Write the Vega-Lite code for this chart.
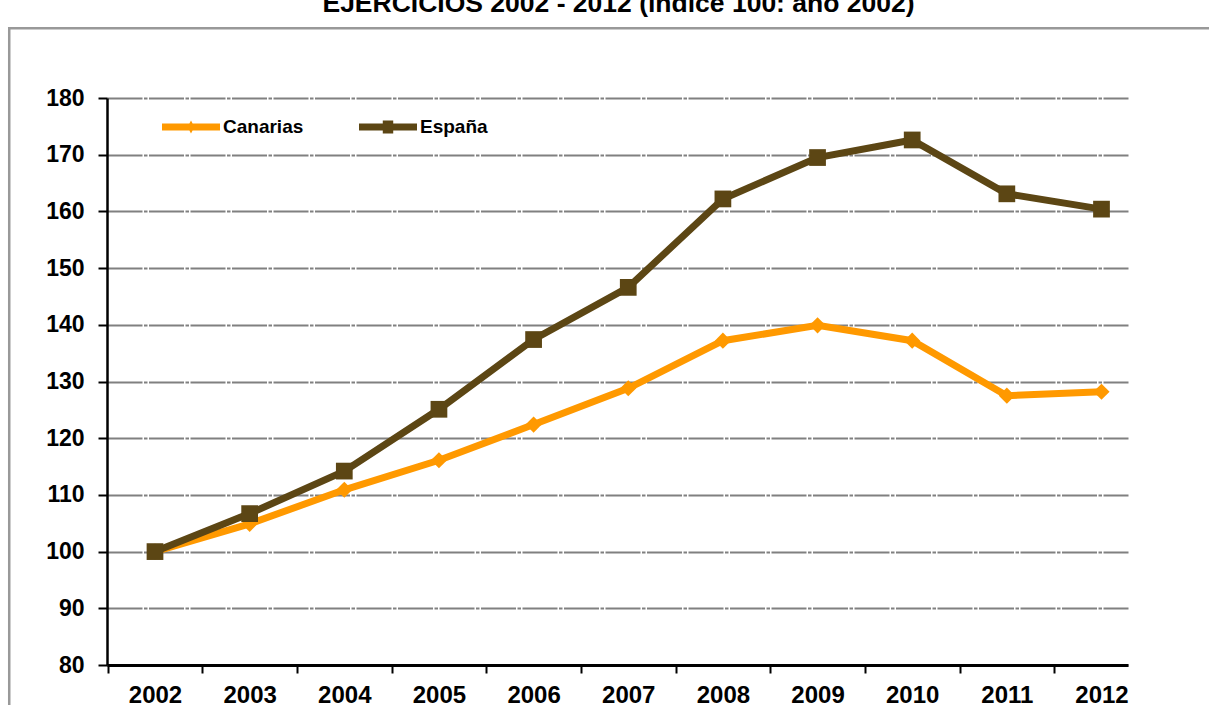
{
  "$schema": "https://vega.github.io/schema/vega-lite/v6.json",
  "width": 1021,
  "height": 567,
  "autosize": "none",
  "padding": {"left": 107, "top": 98, "right": 81, "bottom": 40},
  "background": "white",
  "config": {"view": {"stroke": null}},
  "data": {
    "values": [
      {"year": 2002, "series": "Canarias", "value": 100},
      {"year": 2003, "series": "Canarias", "value": 104.9},
      {"year": 2004, "series": "Canarias", "value": 110.9},
      {"year": 2005, "series": "Canarias", "value": 116.1},
      {"year": 2006, "series": "Canarias", "value": 122.4},
      {"year": 2007, "series": "Canarias", "value": 128.8},
      {"year": 2008, "series": "Canarias", "value": 137.2},
      {"year": 2009, "series": "Canarias", "value": 139.9},
      {"year": 2010, "series": "Canarias", "value": 137.2},
      {"year": 2011, "series": "Canarias", "value": 127.5},
      {"year": 2012, "series": "Canarias", "value": 128.2},
      {"year": 2002, "series": "España", "value": 100},
      {"year": 2003, "series": "España", "value": 106.7},
      {"year": 2004, "series": "España", "value": 114.2},
      {"year": 2005, "series": "España", "value": 125.1},
      {"year": 2006, "series": "España", "value": 137.4},
      {"year": 2007, "series": "España", "value": 146.6},
      {"year": 2008, "series": "España", "value": 162.2},
      {"year": 2009, "series": "España", "value": 169.5},
      {"year": 2010, "series": "España", "value": 172.6},
      {"year": 2011, "series": "España", "value": 163.1},
      {"year": 2012, "series": "España", "value": 160.4}
    ]
  },
  "layer": [
    {
      "transform": [{"filter": "datum.series === 'Canarias'"}],
      "mark": {"type": "line", "strokeWidth": 7, "point": {"shape": "diamond", "size": 260, "filled": true}},
      "encoding": {
        "x": {
          "field": "year", "type": "quantitative",
          "scale": {"domain": [2001.4929, 2012.28], "nice": false, "zero": false},
          "axis": {
            "title": null,
            "values": [2001.5, 2002, 2002.5, 2003, 2003.5, 2004, 2004.5, 2005, 2005.5, 2006, 2006.5, 2007, 2007.5, 2008, 2008.5, 2009, 2009.5, 2010, 2010.5, 2011, 2011.5, 2012],
            "labelExpr": "datum.value % 1 === 0 ? '' + datum.value : ''",
            "labelOverlap": false,
            "labelFlush": false,
            "grid": false,
            "domainColor": "#000000",
            "domainWidth": 3,
            "tickColor": "#000000",
            "tickWidth": 2,
            "tickSize": 8,
            "tickOpacity": {"condition": {"test": "datum.value % 1 !== 0", "value": 1}, "value": 0},
            "labelFont": "Liberation Sans",
            "labelFontSize": 24,
            "labelFontWeight": "bold",
            "labelColor": "#000000",
            "labelPadding": 10
          }
        },
        "y": {
          "field": "value", "type": "quantitative",
          "scale": {"domain": [80, 180], "nice": false, "zero": false},
          "axis": {
            "title": null,
            "values": [80, 90, 100, 110, 120, 130, 140, 150, 160, 170, 180],
            "grid": true,
            "gridColor": "#808080",
            "gridWidth": 2,
            "gridDash": [35, 1.5, 3.5, 1.5],
            "domainColor": "#000000",
            "domainWidth": 2.5,
            "tickColor": "#000000",
            "tickWidth": 2,
            "tickSize": 9,
            "labelFont": "Liberation Sans",
            "labelFontSize": 23,
            "labelFontWeight": "bold",
            "labelColor": "#000000",
            "labelPadding": 14
          }
        },
        "color": {
          "field": "series", "type": "nominal",
          "scale": {"domain": ["Canarias", "España"], "range": ["#FF9900", "#5C4614"]},
          "legend": {
            "orient": "none",
            "legendX": 55,
            "legendY": 0,
            "direction": "horizontal",
            "title": null,
            "padding": 0,
            "labelFont": "Liberation Sans",
            "labelFontSize": 19,
            "labelFontWeight": "bold",
            "labelColor": "#000000",
            "labelOffset": 3,
            "columnPadding": 55,
            "symbolSize": 3364,
            "symbolType": "stroke",
            "symbolStrokeWidth": 0,
            "encode": {
              "symbols": {
                "update": {
                  "shape": {"signal": "datum.value === 'Canarias' ? 'M-1,-0.12L1,-0.12L1,0.12L-1,0.12Z M0,-0.22L0.12,0L0,0.22L-0.12,0Z' : 'M-1,-0.12L1,-0.12L1,0.12L-1,0.12Z M-0.18,-0.22L0.18,-0.22L0.18,0.22L-0.18,0.22Z'"},
                  "fill": {"scale": "color", "field": "value"},
                  "fillOpacity": {"value": 1},
                  "strokeWidth": {"value": 0}
                }
              }
            }
          }
        }
      }
    },
    {
      "transform": [{"filter": "datum.series === 'España'"}],
      "mark": {"type": "line", "strokeWidth": 7, "point": {"shape": "square", "size": 280, "filled": true}},
      "encoding": {
        "x": {"field": "year", "type": "quantitative"},
        "y": {"field": "value", "type": "quantitative"},
        "color": {"field": "series", "type": "nominal"}
      }
    },
    {
      "data": {"values": [{}]},
      "mark": {"type": "rect", "clip": false, "fill": "transparent", "stroke": "#999999", "strokeWidth": 2.5},
      "encoding": {
        "x": {"datum": 2000.46, "type": "quantitative"},
        "x2": {"datum": 2013.4},
        "y": {"datum": 192.3, "type": "quantitative"},
        "y2": {"datum": 70}
      }
    },
    {
      "data": {"values": [{"title": "EJERCICIOS 2002 - 2012 (índice 100: año 2002)"}]},
      "mark": {"type": "text", "clip": false, "align": "center", "baseline": "alphabetic", "font": "Liberation Sans", "fontSize": 26.5, "fontWeight": "bold", "color": "#000000"},
      "encoding": {
        "x": {"datum": 2006.897, "type": "quantitative"},
        "y": {"datum": 195.2, "type": "quantitative"},
        "text": {"field": "title", "type": "nominal"}
      }
    }
  ]
}
